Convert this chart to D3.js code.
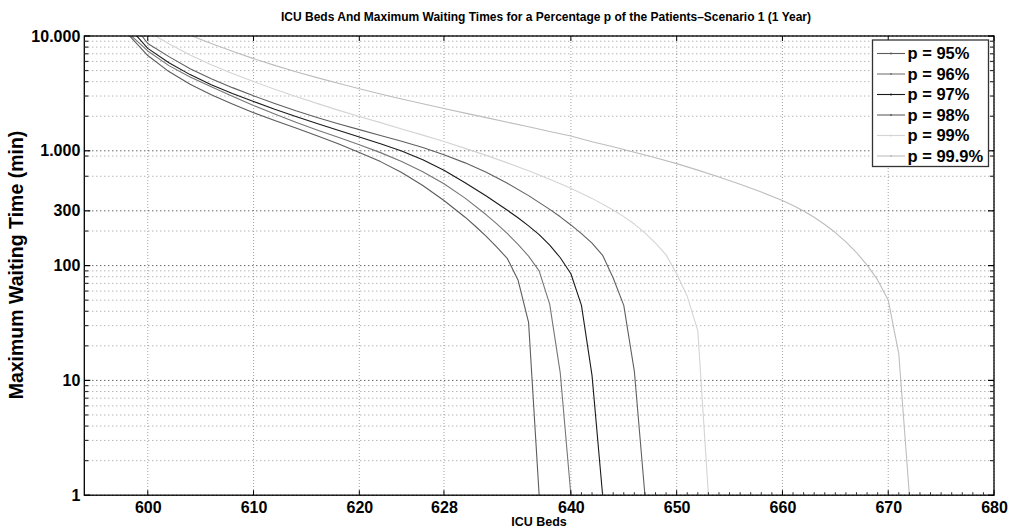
<!DOCTYPE html>
<html><head><meta charset="utf-8">
<script src="https://cdn.jsdelivr.net/npm/d3@7"></script>
<style>
body{margin:0;background:#fff;}
text{font-family:"Liberation Sans", Arial, Helvetica, sans-serif;font-weight:bold;fill:#000;}
</style></head><body>
<svg id="chart" width="1017" height="530"></svg>
<script>
// ---------- data ----------
const titleText = "ICU Beds And Maximum Waiting Times for a Percentage p of the Patients\u2013Scenario 1 (1 Year)";
const xLabel = "ICU Beds";
const yLabel = "Maximum Waiting Time (min)";
const xTicks = [600, 610, 620, 628, 640, 650, 660, 670, 680];
const xMinorTicks = [641,642,643,644,645,646,647,648,649,651,652,653,654,655,656,657,658,659,661,662,663,664,665,666,667,668,669,671,672,673,674,675,676,677,678,679];
const yTicks = [1, 10, 100, 300, 1000, 10000];
const yTickLabels = ["1", "10", "100", "300", "1.000", "10.000"];
const yMinorTicks = [2,3,4,5,6,7,8,9,20,30,40,50,60,70,80,90,200,600,900,2000,3000,4000,5000,6000,7000,8000,9000];

const seriesNames = ["p = 95%", "p = 96%", "p = 97%", "p = 98%", "p = 99%", "p = 99.9%"];
const seriesColors = ["#5c5c5c", "#767676", "#1a1a1a", "#606060", "#d4d4d4", "#bdbdbd"];

const beds95 = [598,600,602,604,606,608,610,612,614,616,618,620,622,624,626,628,630,631,632,633,634,635,636,637];
const wait95 = [10700,6760,4900,3800,3080,2560,2150,1840,1580,1350,1150,966,805,647,498,369,264,219,180,145,115,75,32,1];

const beds96 = [598,600,602,604,606,608,610,612,614,616,618,620,622,624,626,628,630,632,633,634,635,636,637,638,639,640];
const wait96 = [10960,7410,5520,4390,3610,2980,2480,2090,1770,1520,1310,1130,964,807,658,516,387,277,231,190,153,121,90,46,11.5,1];

const beds97 = [598,600,602,604,606,608,610,612,614,616,618,620,622,624,626,628,630,632,634,635,636,637,638,639,640,641,642,643];
const wait97 = [12600,7800,5850,4610,3770,3160,2690,2300,1990,1730,1510,1320,1150,995,836,676,527,404,303,261,222,186,151,117,85,45,11,1];

const beds98 = [599,600,602,604,606,608,610,612,614,616,618,620,622,624,626,628,630,632,634,636,638,639,640,641,642,643,644,645,646,647];
const wait98 = [11350,8610,6610,5190,4250,3550,3010,2580,2230,1950,1720,1530,1360,1210,1070,925,785,649,521,407,309,266,226,190,157,123,78,45,12,1];

const beds99 = [600,602,604,606,608,610,612,614,616,618,620,622,624,626,628,630,632,634,636,638,640,642,644,645,646,647,648,649,650,651,652,653];
const wait99 = [10960,8550,6840,5620,4720,4010,3440,2970,2590,2260,1990,1760,1550,1370,1205,1050,912,785,670,566,471,385,305,267,230,193,157,124,85,54,27,1];

const beds999 = [602,604,606,608,610,612,614,616,618,620,622,624,626,628,630,632,634,636,638,640,642,644,646,648,650,652,654,656,658,660,661,662,663,664,665,666,667,668,669,670,671,672];
const wait999 = [12000,10160,8610,7360,6350,5550,4890,4340,3870,3475,3130,2830,2570,2340,2130,1945,1775,1620,1475,1345,1200,1085,973,871,773,679,592,511,437,369,334,299,264,228,194,161,130,101,75,50,17,1];

const seriesBeds = [beds95, beds96, beds97, beds98, beds99, beds999];
const seriesWaits = [wait95, wait96, wait97, wait98, wait99, wait999];

// ---------- layout ----------
const svg = d3.select("#chart");
const L = 84.3, R = 994, T = 36, B = 495.2;
const x = d3.scaleLinear().domain([594, 680]).range([L, R]);
const y = d3.scaleLog().domain([1, 10000]).range([B, T]);

svg.append("rect").attr("width",1017).attr("height",530).attr("fill","#fff");

// grid
const g = svg.append("g");
g.selectAll("line.vg").data(xTicks).enter().append("line")
  .attr("x1", d=>x(d)).attr("x2", d=>x(d)).attr("y1", T).attr("y2", B)
  .attr("stroke", "#9a9a9a").attr("stroke-width", 0.9).attr("stroke-dasharray", "1,2");
g.selectAll("line.hm").data(yMinorTicks).enter().append("line")
  .attr("x1", L).attr("x2", R).attr("y1", d=>y(d)).attr("y2", d=>y(d))
  .attr("stroke", "#8a8a8a").attr("stroke-width", 0.9).attr("stroke-dasharray", "1,3");
g.selectAll("line.hM").data(yTicks).enter().append("line")
  .attr("x1", L).attr("x2", R).attr("y1", d=>y(d)).attr("y2", d=>y(d))
  .attr("stroke", "#222").attr("stroke-width", 1).attr("stroke-dasharray", "1,3");

// curves
svg.append("clipPath").attr("id","clip").append("rect")
  .attr("x", L).attr("y", T).attr("width", R-L).attr("height", B-T);
const line = d3.line().x(d=>x(d[0])).y(d=>y(d[1])).curve(d3.curveLinear);
const cg = svg.append("g").attr("clip-path","url(#clip)");
seriesBeds.forEach((bs, i) => {
  const pts = bs.map((b, j) => [b, seriesWaits[i][j]]);
  cg.append("path").datum(pts).attr("d", line)
    .attr("fill","none").attr("stroke", seriesColors[i]).attr("stroke-width", 1.1)
    .attr("stroke-linejoin","round");
});

// axes box
svg.append("rect").attr("x", L).attr("y", T).attr("width", R-L).attr("height", B-T)
  .attr("fill","none").attr("stroke","#000").attr("stroke-width",1.3);

// x ticks
const xAxisB = d3.axisBottom(x).tickValues(xTicks).tickSize(0).tickPadding(4).tickFormat(d3.format("d"));
const gx = svg.append("g").attr("transform", `translate(0,${B})`).call(xAxisB);
gx.select(".domain").remove();
gx.selectAll("text").attr("font-size", 16).attr("font-family", null).attr("dy","0.85em");
xTicks.forEach(v => {
  svg.append("line").attr("x1", x(v)).attr("x2", x(v)).attr("y1", B).attr("y2", B-5).attr("stroke","#000").attr("stroke-width",1);
  svg.append("line").attr("x1", x(v)).attr("x2", x(v)).attr("y1", T).attr("y2", T+5).attr("stroke","#000").attr("stroke-width",1);
});
xMinorTicks.forEach(v => {
  svg.append("line").attr("x1", x(v)).attr("x2", x(v)).attr("y1", B).attr("y2", B-3).attr("stroke","#333").attr("stroke-width",1);
});

// y ticks
const yAxisL = d3.axisLeft(y).tickValues(yTicks).tickSize(0).tickPadding(4)
  .tickFormat((d) => yTickLabels[yTicks.indexOf(d)]);
const gy = svg.append("g").attr("transform", `translate(${L},0)`).call(yAxisL);
gy.select(".domain").remove();
gy.selectAll("text").attr("font-size", 16).attr("font-family", null);
yTicks.forEach(v => {
  svg.append("line").attr("x1", L).attr("x2", L+6).attr("y1", y(v)).attr("y2", y(v)).attr("stroke","#000").attr("stroke-width",1.2);
  svg.append("line").attr("x1", R).attr("x2", R-6).attr("y1", y(v)).attr("y2", y(v)).attr("stroke","#000").attr("stroke-width",1.2);
});
yMinorTicks.forEach(v => {
  svg.append("line").attr("x1", L).attr("x2", L+4).attr("y1", y(v)).attr("y2", y(v)).attr("stroke","#333").attr("stroke-width",1.2);
  svg.append("line").attr("x1", R).attr("x2", R-4).attr("y1", y(v)).attr("y2", y(v)).attr("stroke","#333").attr("stroke-width",1.2);
});

// title & labels
svg.append("text").attr("x", 546).attr("y", 21).attr("text-anchor","middle")
  .attr("font-size", 13).attr("textLength", 530).attr("lengthAdjust", "spacingAndGlyphs").text(titleText);
svg.append("text").attr("x", 539).attr("y", 526).attr("text-anchor","middle")
  .attr("font-size", 12.5).text(xLabel);
svg.append("text").attr("transform", "translate(23,265) rotate(-90)").attr("text-anchor","middle")
  .attr("font-size", 19.5).text(yLabel);

// legend
const lg = svg.append("g");
lg.append("rect").attr("x", 872.5).attr("y", 40).attr("width", 116).attr("height", 126.5)
  .attr("fill","#fff").attr("stroke","#333").attr("stroke-width",1.3);
seriesNames.forEach((n, i) => {
  const yy = 53.5 + i*20.5;
  lg.append("line").attr("x1", 877).attr("x2", 905).attr("y1", yy).attr("y2", yy)
    .attr("stroke", seriesColors[i]).attr("stroke-width", 1.1);
  lg.append("circle").attr("cx", 891).attr("cy", yy).attr("r", 1).attr("fill", seriesColors[i]);
  lg.append("text").attr("x", 907.5).attr("y", yy + 5.5).attr("font-size", 16.5).text(n);
});
</script>
</body></html>
